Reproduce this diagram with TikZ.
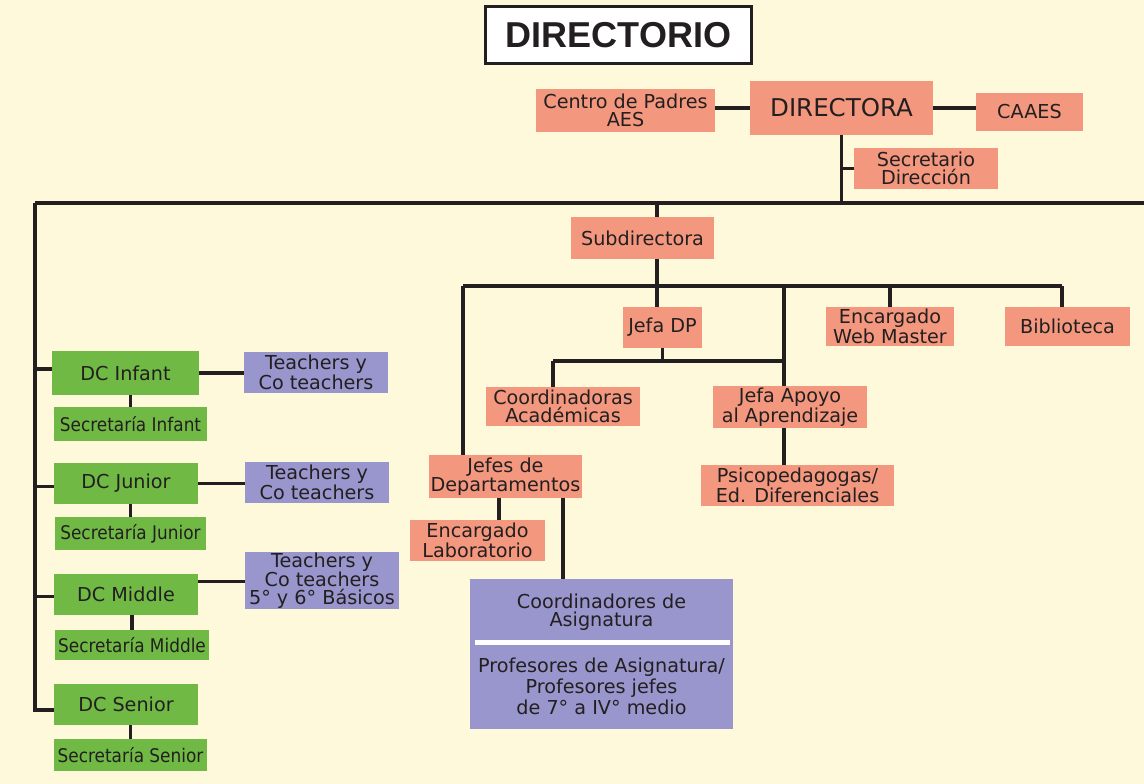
\documentclass[tikz,border=0pt]{standalone}
\usepackage{fontspec}
\setmainfont{DejaVu Sans}
\newfontfamily\titlefont{Liberation Sans}
\newfontfamily\condfont[FakeStretch=0.9]{DejaVu Sans}
\usetikzlibrary{calc}
\definecolor{bg}{HTML}{FFF9DB}
\definecolor{sal}{HTML}{F3987E}
\definecolor{grn}{HTML}{70B944}
\definecolor{pur}{HTML}{9896CC}
\definecolor{ink}{HTML}{231F20}
\begin{document}
\begin{tikzpicture}[x=1pt,y=-1pt,
 box/.style={inner sep=0pt, align=center, text=ink, font=\fontsize{19.2}{17.8}\selectfont},
 salbox/.style={box, fill=sal},
 grnbox/.style={box, fill=grn},
 secbox/.style={box, fill=grn, font=\condfont\fontsize{18.8}{17.5}\selectfont},
 purbox/.style={box, fill=pur},
 conn/.style={draw=ink, line width=3.4pt}]
\fill[bg] (0,0) rectangle (1144,784);
\useasboundingbox (0,0) rectangle (1144,784);

% title
\node[draw=ink, line width=3pt, fill=white, minimum width=266, minimum height=57, inner sep=0pt,
  font=\titlefont\bfseries\fontsize{36}{36}\selectfont, text=ink] (title) at (618.5,35) {DIRECTORIO};

% top level
\node[salbox, minimum width=179, minimum height=43] (centro) at (625.5,110.5) {Centro de Padres\\AES};
\node[salbox, minimum width=183, minimum height=54, font=\fontsize{24.5}{24}\selectfont] (directora) at (841.5,108) {DIRECTORA};
\node[salbox, minimum width=107, minimum height=38] (caaes) at (1029.5,112) {CAAES};
\node[salbox, minimum width=144, minimum height=41] (secret) at (926,168.5) {Secretario\\Dirección};
\node[salbox, minimum width=143, minimum height=42] (subdir) at (642.5,238) {Subdirectora};

% second level
\node[salbox, minimum width=79, minimum height=41] (jefadp) at (662.5,327.5) {Jefa DP};
\node[salbox, minimum width=128, minimum height=39] (web) at (890,326.5) {Encargado\\Web Master};
\node[salbox, minimum width=125, minimum height=39] (biblio) at (1067.5,326.5) {Biblioteca};
\node[salbox, minimum width=154, minimum height=39] (coordac) at (563,406.5) {Coordinadoras\\Académicas};
\node[salbox, minimum width=154, minimum height=42] (apoyo) at (790,407) {Jefa Apoyo\\al Aprendizaje};
\node[salbox, minimum width=193, minimum height=41] (psico) at (797.5,485.5) {Psicopedagogas/\\Ed. Diferenciales};
\node[salbox, minimum width=153, minimum height=43] (jefes) at (505.5,476.5) {Jefes de\\Departamentos};
\node[salbox, minimum width=135, minimum height=41] (lab) at (477.5,540.5) {Encargado\\Laboratorio};

% coordinadores de asignatura
\node[purbox, minimum width=263, minimum height=150] (casig) at (601.5,654) {};
\node[box] (casigtop) at (601.5,612) {Coordinadores de\\Asignatura};
\fill[white] (475,639.5) rectangle (730,645);
\node[box, font=\fontsize{19.2}{21}\selectfont] (casigbot) at (601.5,686.5) {Profesores de Asignatura/\\Profesores jefes\\de 7° a IV° medio};

% left column
\node[grnbox, minimum width=147, minimum height=44] (dcinf) at (125.5,373) {DC Infant};
\node[purbox, minimum width=144, minimum height=41] (t1) at (316,372.5) {Teachers y\\Co teachers};
\node[secbox, minimum width=153, minimum height=34] (secinf) at (130.5,424) {Secretaría Infant};
\node[grnbox, minimum width=144, minimum height=41] (dcjun) at (126,483.5) {DC Junior};
\node[purbox, minimum width=144, minimum height=41] (t2) at (317,482.5) {Teachers y\\Co teachers};
\node[secbox, minimum width=151, minimum height=33] (secjun) at (130.5,533.5) {Secretaría Junior};
\node[grnbox, minimum width=144, minimum height=41] (dcmid) at (126,594.5) {DC Middle};
\node[purbox, minimum width=154, minimum height=57] (t3) at (322,580.5) {Teachers y\\Co teachers\\5° y 6° Básicos};
\node[secbox, minimum width=154, minimum height=30] (secmid) at (132,645) {Secretaría Middle};
\node[grnbox, minimum width=144, minimum height=41] (dcsen) at (126,704.5) {DC Senior};
\node[secbox, minimum width=153, minimum height=32] (secsen) at (130.5,755) {Secretaría Senior};

% coordinates
\coordinate (busL) at (35,203);
\coordinate (busR) at (1144,203);
\coordinate (sx) at (657,286);
\coordinate (b2L) at (463,286);
\coordinate (b2R) at (1062,286);
\coordinate (ax) at (784,286);
\coordinate (dpL) at (553,361);
\coordinate (dpR) at (784,361);
\coordinate (jl) at (499,0);
\coordinate (jr) at (563,0);

% connectors top
\draw[conn] (directora.west) -- (directora.west -| centro.east);
\draw[conn] (directora.east) -- (directora.east -| caaes.west);
\draw[conn] (directora.south) -- (directora.south |- busR);
\draw[conn] (secret.west) -- (secret.west -| directora.south);
\draw[conn] (busL) -- (busR);
\draw[conn] (sx |- busL) -- (sx |- subdir.north);
\draw[conn] (sx |- subdir.south) -- (sx);
\draw[conn] (b2L) -- (b2R);
\draw[conn] (sx) -- (sx |- jefadp.north);
\draw[conn] (b2L) -- (b2L |- jefes.north);
\draw[conn] (b2R) -- (b2R |- biblio.north);
\draw[conn] (web.north) -- (web.north |- b2L);
\draw[conn] (ax) -- (ax |- apoyo.north);
\draw[conn] (jefadp.south) -- (jefadp.south |- dpL);
\draw[conn] (dpL) -- (dpR);
\draw[conn] (dpL) -- (dpL |- coordac.north);
\draw[conn] (ax |- apoyo.south) -- (ax |- psico.north);
\draw[conn] (jl |- jefes.south) -- (jl |- lab.north);
\draw[conn] (jr |- jefes.south) -- (jr |- casig.north);

% connectors left
\draw[conn] (busL) |- ($(dcsen.west)+(0,5.5)$);
\draw[conn] ($(dcinf.west)+(0,-4)$) -- ($(dcinf.west -| busL)+(0,-4)$);
\draw[conn] ($(dcjun.west)+(0,3)$) -- ($(dcjun.west -| busL)+(0,3)$);
\draw[conn] ($(dcmid.west)+(0,2)$) -- ($(dcmid.west -| busL)+(0,2)$);
\draw[conn] (dcinf.east) -- (dcinf.east -| t1.west);
\draw[conn] (dcjun.east) -- (dcjun.east -| t2.west);
\draw[conn] ($(dcmid.east)+(0,-13)$) -- ($(dcmid.east -| t3.west)+(0,-13)$);
\draw[conn] (secinf.north) -- (secinf.north |- dcinf.south);
\draw[conn] (secjun.north) -- (secjun.north |- dcjun.south);
\draw[conn] (secmid.north) -- (secmid.north |- dcmid.south);
\draw[conn] (secsen.north) -- (secsen.north |- dcsen.south);
\end{tikzpicture}
\end{document}
